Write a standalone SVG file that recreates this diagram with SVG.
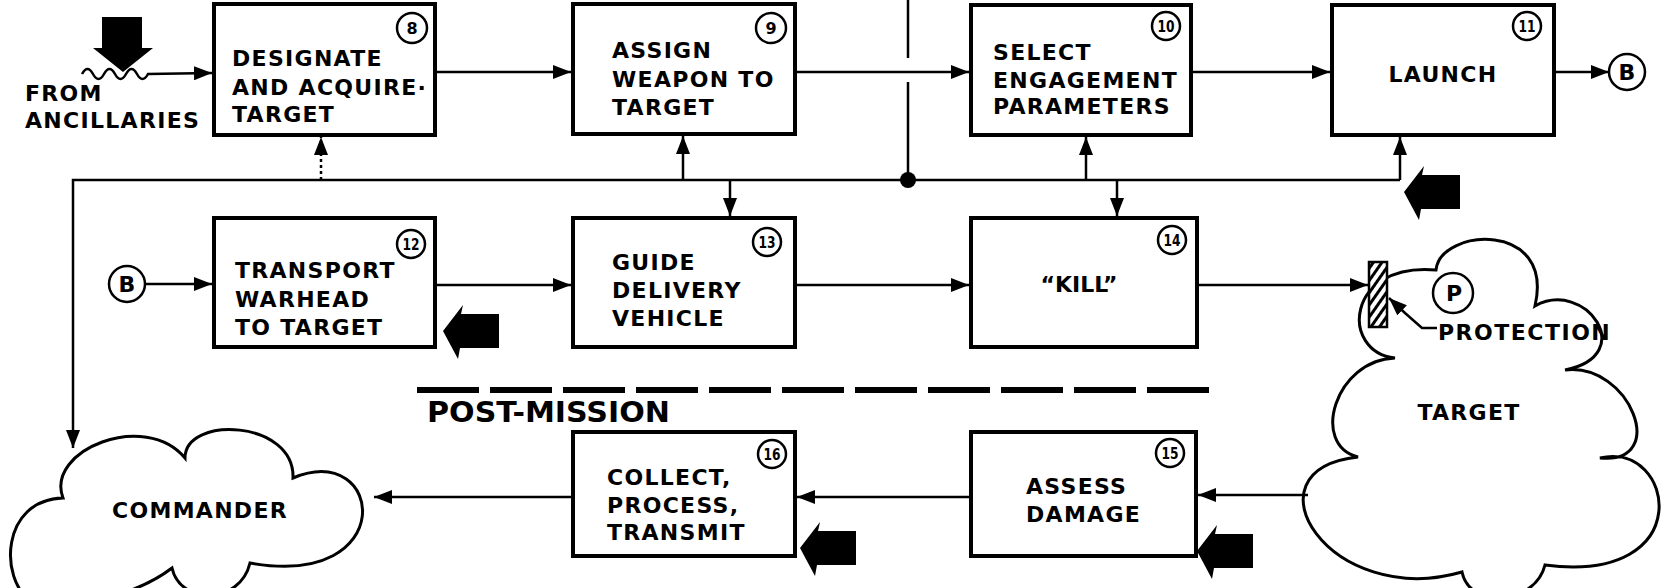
<svg xmlns="http://www.w3.org/2000/svg" width="1663" height="588" viewBox="0 0 1663 588">
<style>
.box{fill:#fff;stroke:#000;stroke-width:4}
.ln{fill:none;stroke:#000;stroke-width:2.5}
.cl{fill:#fff;stroke:#000;stroke-width:3}
.t{font-family:"DejaVu Sans","Liberation Sans",sans-serif;font-weight:bold;font-size:22px;letter-spacing:1.3px;fill:#000}
.c{text-anchor:middle}
.n{font-family:"DejaVu Sans","Liberation Sans",sans-serif;font-weight:bold;font-size:16px;fill:#000;text-anchor:middle}
.nc{fill:#fff;stroke:#000;stroke-width:2.5}
</style>
<defs>
<marker id="ah" viewBox="0 0 18 14" markerWidth="18" markerHeight="14" markerUnits="userSpaceOnUse" refX="18" refY="7" orient="auto">
<path d="M0,0 L18,7 L0,14 Z" fill="#000"/>
</marker>
<path id="blk" d="M0,0 L20,-26 L18,-17 L56,-17 L56,17 L17,17 L15,28 Z" fill="#000"/>
<pattern id="hatch" width="7" height="7" patternUnits="userSpaceOnUse" patternTransform="rotate(35)">
<rect width="7" height="7" fill="#fff"/>
<line x1="1.5" y1="0" x2="1.5" y2="7" stroke="#000" stroke-width="3"/>
</pattern>
</defs>
<rect width="1663" height="588" fill="#fff"/>

<g id="clouds">
<g id="commander">
<path class="cl" d="M63,498 C45,450 145,410 185,458 C185,415 295,420 293,478 C385,440 400,590 250,563 C240,605 180,605 172,568 C130,600 60,610 30,600 C0,580 0,500 63,498 Z"/>
<text class="t" x="112" y="518">COMMANDER</text>
</g>
<g id="target">
<path class="cl" d="M1395,358 C1340,352 1345,262 1436,270 C1440,228 1555,220 1535,306 C1585,278 1640,355 1565,370 C1630,362 1670,465 1600,458 C1675,440 1700,585 1545,565 C1535,605 1470,610 1462,572 C1330,610 1240,470 1358,457 C1310,445 1335,360 1395,358 Z"/>
<text class="t c" x="1469" y="420">TARGET</text>
<circle class="nc" cx="1453" cy="293" r="20"/>
<text class="t c" x="1454" y="301" style="letter-spacing:0">P</text>
<rect x="1369" y="262" width="18" height="65" fill="url(#hatch)" stroke="#000" stroke-width="2.5"/>
<text class="t" x="1438" y="340" style="letter-spacing:1.5px">PROTECTION</text>
<path class="ln" d="M1437,328 L1422,328 L1405,313 L1389,298" marker-end="url(#ah)"/>
</g>
</g>

<g id="connectors">
<path class="ln" d="M82,74 q5.5,-10 11,0 t11,0 t11,0 t11,0 t11,0 t11,0 L212,73" marker-end="url(#ah)"/>
<path class="ln" d="M435,72 L571,72" marker-end="url(#ah)"/>
<path class="ln" d="M795,72 L969,72" marker-end="url(#ah)"/>
<path class="ln" d="M1191,72 L1330,72" marker-end="url(#ah)"/>
<path class="ln" d="M1554,72 L1609,72" marker-end="url(#ah)"/>
<path class="ln" d="M908,0 L908,58 M908,82 L908,180"/>
<circle cx="908" cy="180" r="8" fill="#000"/>
<path class="ln" d="M1400,180 L73,180 L73,448" marker-end="url(#ah)"/>
<path class="ln" d="M1400,180 L1400,137" marker-end="url(#ah)"/>
<path class="ln" d="M321,180 L321,137" stroke-dasharray="3 3" marker-end="url(#ah)"/>
<path class="ln" d="M683,180 L683,136" marker-end="url(#ah)"/>
<path class="ln" d="M1086,180 L1086,137" marker-end="url(#ah)"/>
<path class="ln" d="M730,180 L730,216" marker-end="url(#ah)"/>
<path class="ln" d="M1117,180 L1117,216" marker-end="url(#ah)"/>
<path class="ln" d="M145,284 L212,284" marker-end="url(#ah)"/>
<path class="ln" d="M435,285 L571,285" marker-end="url(#ah)"/>
<path class="ln" d="M795,285 L969,285" marker-end="url(#ah)"/>
<path class="ln" d="M1197,285 L1368,285" marker-end="url(#ah)"/>
<path class="ln" d="M1308,495 L1198,495" marker-end="url(#ah)"/>
<path class="ln" d="M971,497 L797,497" marker-end="url(#ah)"/>
<path class="ln" d="M573,497 L374,497" marker-end="url(#ah)"/>
<line x1="417" y1="390" x2="1215" y2="390" stroke="#000" stroke-width="6" stroke-dasharray="62 11"/>
</g>

<g id="block-arrows">
<polygon points="102,17 142,17 142,48 153,48 123,72 93,48 102,48" fill="#000"/>
<use href="#blk" x="1404" y="192"/>
<use href="#blk" x="443" y="331"/>
<use href="#blk" x="800" y="548"/>
<use href="#blk" x="1197" y="551"/>
</g>

<g id="from-ancillaries">
<text class="t" x="25" y="101">FROM</text>
<text class="t" x="25" y="128">ANCILLARIES</text>
</g>

<g id="node8">
<rect class="box" x="214" y="4" width="221" height="131"/>
<circle class="nc" cx="412" cy="28" r="15"/><text class="n" x="412" y="34">8</text>
<text class="t" x="232" y="66">DESIGNATE</text>
<text class="t" x="232" y="95">AND ACQUIRE·</text>
<text class="t" x="232" y="122">TARGET</text>
</g>
<g id="node9">
<rect class="box" x="573" y="4" width="222" height="130"/>
<circle class="nc" cx="771" cy="28" r="15"/><text class="n" x="771" y="34">9</text>
<text class="t" x="612" y="58">ASSIGN</text>
<text class="t" x="612" y="87">WEAPON TO</text>
<text class="t" x="612" y="115">TARGET</text>
</g>
<g id="node10">
<rect class="box" x="971" y="5" width="220" height="130"/>
<circle class="nc" cx="1166" cy="26" r="14"/><text class="n" x="1166" y="32" textLength="17" lengthAdjust="spacingAndGlyphs">10</text>
<text class="t" x="993" y="60">SELECT</text>
<text class="t" x="993" y="88">ENGAGEMENT</text>
<text class="t" x="993" y="114">PARAMETERS</text>
</g>
<g id="node11">
<rect class="box" x="1332" y="5" width="222" height="130"/>
<circle class="nc" cx="1527" cy="26" r="14"/><text class="n" x="1527" y="32" textLength="17" lengthAdjust="spacingAndGlyphs">11</text>
<text class="t c" x="1443" y="82">LAUNCH</text>
</g>
<g id="connB-out">
<circle class="nc" cx="1627" cy="72" r="18"/>
<text class="t c" x="1627" y="80" style="letter-spacing:0">B</text>
</g>
<g id="connB-in">
<circle class="nc" cx="127" cy="284" r="18"/>
<text class="t c" x="127" y="292" style="letter-spacing:0">B</text>
</g>
<g id="node12">
<rect class="box" x="214" y="218" width="221" height="129"/>
<circle class="nc" cx="411" cy="244" r="14"/><text class="n" x="411" y="250" textLength="17" lengthAdjust="spacingAndGlyphs">12</text>
<text class="t" x="235" y="278">TRANSPORT</text>
<text class="t" x="235" y="307">WARHEAD</text>
<text class="t" x="235" y="335">TO TARGET</text>
</g>
<g id="node13">
<rect class="box" x="573" y="218" width="222" height="129"/>
<circle class="nc" cx="767" cy="242" r="14"/><text class="n" x="767" y="248" textLength="17" lengthAdjust="spacingAndGlyphs">13</text>
<text class="t" x="612" y="270">GUIDE</text>
<text class="t" x="612" y="298">DELIVERY</text>
<text class="t" x="612" y="326">VEHICLE</text>
</g>
<g id="node14">
<rect class="box" x="971" y="218" width="226" height="129"/>
<circle class="nc" cx="1172" cy="240" r="14"/><text class="n" x="1172" y="246" textLength="17" lengthAdjust="spacingAndGlyphs">14</text>
<text class="t c" x="1079" y="292" style="letter-spacing:0">“KILL”</text>
</g>
<g id="post-mission">
<text class="t" x="427" y="422" style="font-size:28px;letter-spacing:0" textLength="243" lengthAdjust="spacingAndGlyphs">POST-MISSION</text>
</g>
<g id="node15">
<rect class="box" x="971" y="432" width="225" height="124"/>
<circle class="nc" cx="1170" cy="453" r="14"/><text class="n" x="1170" y="459" textLength="17" lengthAdjust="spacingAndGlyphs">15</text>
<text class="t" x="1026" y="494">ASSESS</text>
<text class="t" x="1026" y="522">DAMAGE</text>
</g>
<g id="node16">
<rect class="box" x="573" y="432" width="222" height="124"/>
<circle class="nc" cx="772" cy="454" r="14"/><text class="n" x="772" y="460" textLength="17" lengthAdjust="spacingAndGlyphs">16</text>
<text class="t" x="607" y="485">COLLECT,</text>
<text class="t" x="607" y="513">PROCESS,</text>
<text class="t" x="607" y="540">TRANSMIT</text>
</g>
</svg>
